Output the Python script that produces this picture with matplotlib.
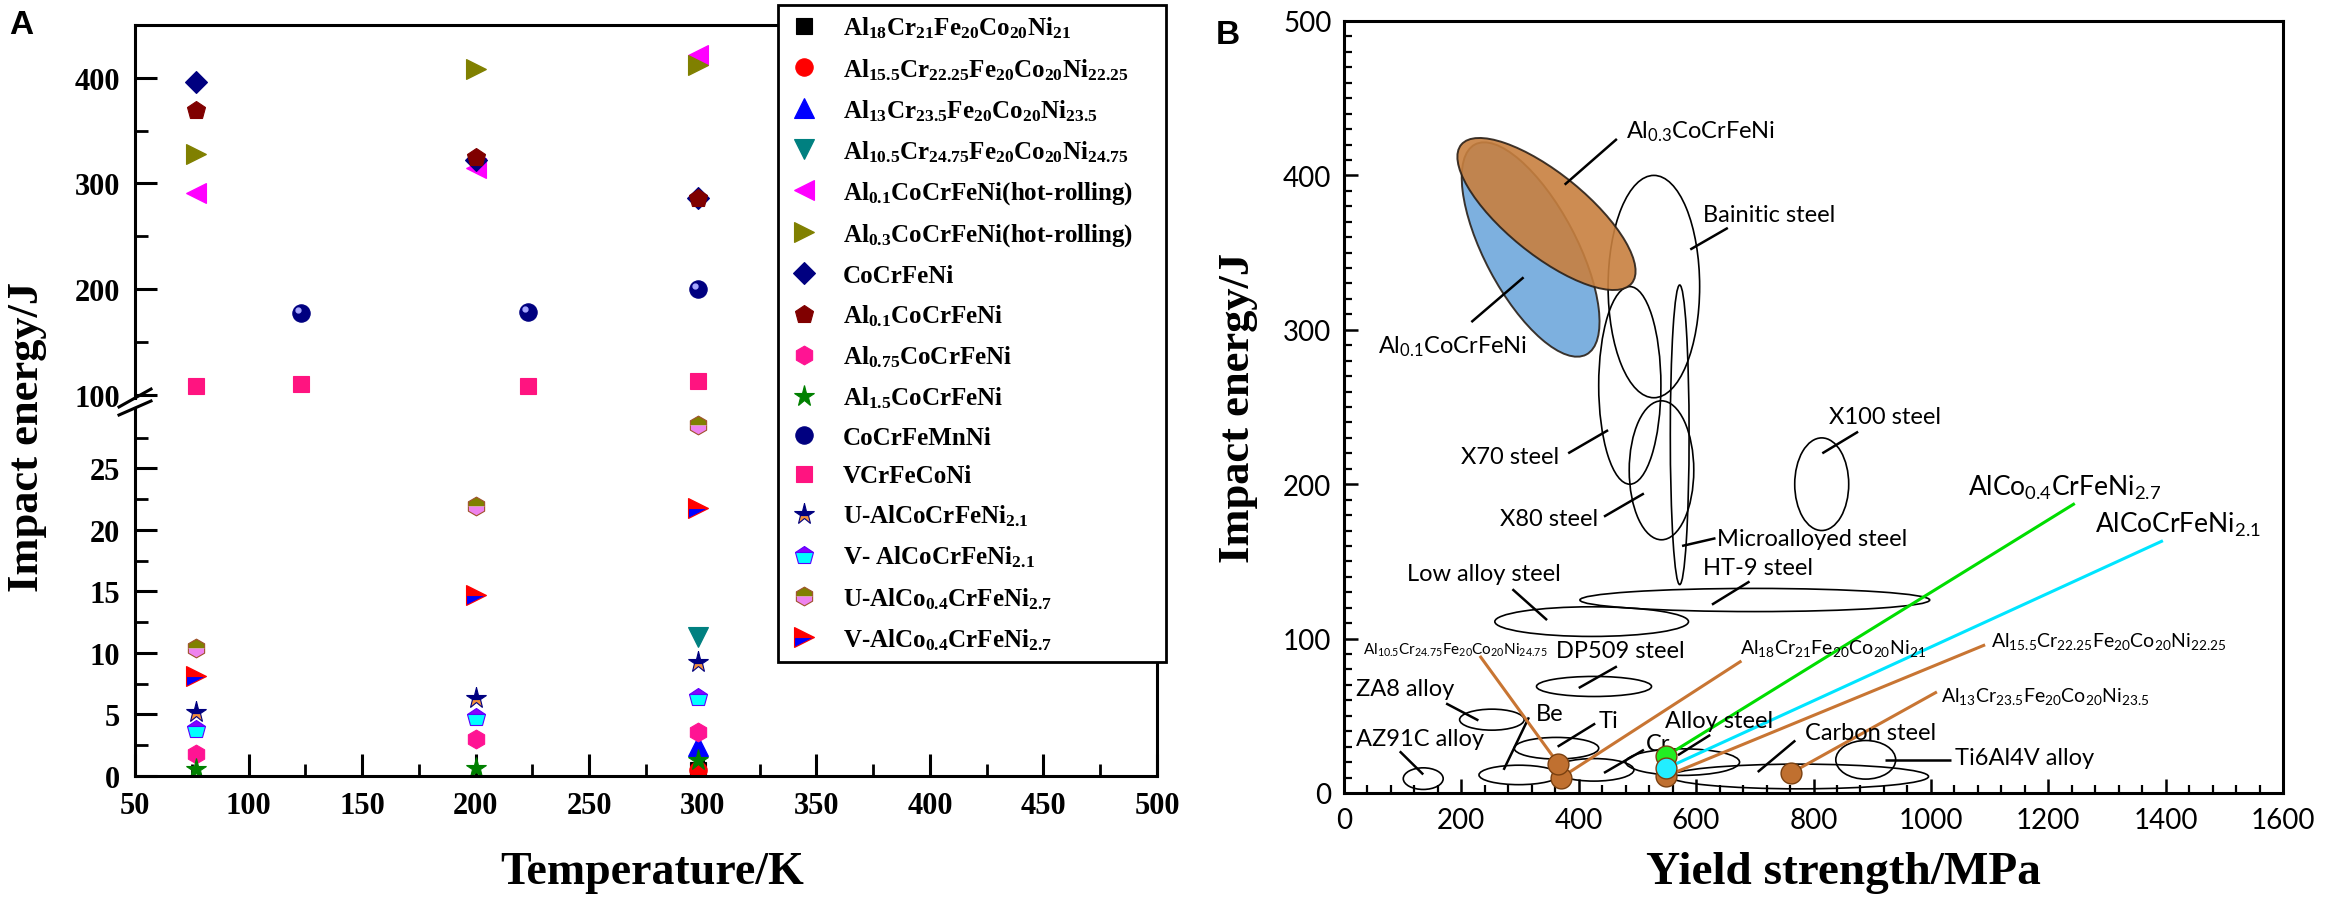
import numpy as np
import matplotlib
matplotlib.use('Agg')
import matplotlib.pyplot as plt
from matplotlib.patches import Ellipse
from matplotlib.transforms import Affine2D, offset_copy
from matplotlib.ticker import MultipleLocator

plt.rcParams['font.family'] = ['Liberation Serif', 'DejaVu Serif']
plt.rcParams['font.weight'] = 'bold'
plt.rcParams['mathtext.default'] = 'regular'

# ---------------- panel A data: impact energy vs temperature ----------------
series_names = [
    'Al$_{18}$Cr$_{21}$Fe$_{20}$Co$_{20}$Ni$_{21}$',
    'Al$_{15.5}$Cr$_{22.25}$Fe$_{20}$Co$_{20}$Ni$_{22.25}$',
    'Al$_{13}$Cr$_{23.5}$Fe$_{20}$Co$_{20}$Ni$_{23.5}$',
    'Al$_{10.5}$Cr$_{24.75}$Fe$_{20}$Co$_{20}$Ni$_{24.75}$',
    'Al$_{0.1}$CoCrFeNi(hot-rolling)',
    'Al$_{0.3}$CoCrFeNi(hot-rolling)',
    'CoCrFeNi',
    'Al$_{0.1}$CoCrFeNi',
    'Al$_{0.75}$CoCrFeNi',
    'Al$_{1.5}$CoCrFeNi',
    'CoCrFeMnNi',
    'VCrFeCoNi',
    'U-AlCoCrFeNi$_{2.1}$',
    'V- AlCoCrFeNi$_{2.1}$',
    'U-AlCo$_{0.4}$CrFeNi$_{2.7}$',
    'V-AlCo$_{0.4}$CrFeNi$_{2.7}$',
]
series_T = [
    [298], [298], [298], [298],
    [77, 200, 298], [77, 200, 298], [77, 200, 298], [77, 200, 298],
    [77, 200, 298], [77, 200, 298], [123, 223, 298], [77, 123, 223, 298],
    [77, 200, 298], [77, 200, 298], [77, 200, 298], [77, 200, 298],
]
series_E = [
    [0.5], [0.45], [2.4], [11.3],
    [291, 315, 422], [328, 408, 412], [396, 322, 286], [370, 325, 286],
    [1.8, 3.0, 3.6], [0.6, 0.65, 1.3], [177, 178, 200], [108, 110, 108, 113],
    [5.2, 6.3, 9.3], [3.8, 4.8, 6.4], [10.4, 21.9, 28.5], [8.1, 14.7, 21.8],
]

styles = [
    dict(marker='s', ms=11, color='black'),
    dict(marker='o', ms=12.5, color='red'),
    dict(marker='^', ms=14.5, color='blue'),
    dict(marker='v', ms=14.5, color='#008080'),
    dict(marker='<', ms=14.5, color='#ff00ff'),
    dict(marker='>', ms=14.5, color='#808000'),
    dict(marker='D', ms=11, color='#000080'),
    dict(marker='p', ms=13.5, color='#800000'),
    dict(marker='h', ms=13.5, color='#ff1493'),
    dict(marker='*', ms=15.5, color='#008000'),
    dict(marker='o', ms=12.5, color='#000080'),
    dict(marker='s', ms=11, color='#ff1480'),
    dict(marker='*', ms=15.5, mfc='#f4913c', mfcalt='#000080', fillstyle='bottom', mec='#000080'),
    dict(marker='p', ms=13.5, mfc='#8800ff', mfcalt='#00ffff', fillstyle='top', mec='#5a00ff'),
    dict(marker='h', ms=13.5, mfc='#808000', mfcalt='#ee82ee', fillstyle='top', mec='#a0522d'),
    dict(marker='>', ms=14.5, mfc='#ff0000', mfcalt='#0000ff', fillstyle='top', mec='#ff0000'),
]

# ---------------- panel B data: impact energy vs yield strength ----------------
ell_names = ['Bainitic steel', 'X70 steel', 'X80 steel', 'Microalloyed steel', 'X100 steel',
             'HT-9 steel', 'Low alloy steel', 'DP509 steel', 'ZA8 alloy', 'Ti', 'AZ91C alloy',
             'Be', 'Cr', 'Alloy steel', 'Carbon steel', 'Ti6Al4V alloy']
ell_cx = [528, 487, 541, 572, 814, 700, 422, 426, 252, 362, 135, 298, 426, 577, 776, 889]
ell_cy = [328, 264, 209, 232, 200, 125, 111, 69, 47.5, 29, 9.3, 11.7, 15, 20, 10.7, 21.5]
ell_rx = [78, 53, 55, 16, 46, 298, 165, 98, 55, 72, 34, 68, 68, 97, 220, 51]
ell_ry = [72, 64, 45, 97, 30, 7.5, 9.6, 6.5, 6.8, 7, 7, 6.3, 7.3, 8.6, 8, 12.5]

# tilted HEA ellipses: centre, major and minor semi-axis vectors (MPa, J)
hea_cx = [318, 345]
hea_cy = [352, 375]
hea_u = [(95, -68), (145, -45)]
hea_v = [(69, 14), (45, 20)]
hea_colors = ['#6fa8dc', '#c8803f']

label_text = ['Al$_{0.3}$CoCrFeNi', 'Al$_{0.1}$CoCrFeNi', 'Bainitic steel', 'X70 steel',
              'X80 steel', 'Microalloyed steel', 'HT-9 steel', 'X100 steel', 'Low alloy steel',
              'DP509 steel', 'ZA8 alloy', 'AZ91C alloy', 'Be', 'Ti', 'Cr', 'Alloy steel',
              'Carbon steel', 'Ti6Al4V alloy']
label_x = [480, 58, 612, 199, 266, 636, 612, 827, 107, 361, 20, 20, 327, 434, 515, 547, 785, 1041]
label_y = [429, 290, 375, 218, 178, 165, 146, 244, 142, 92, 68, 35, 51.6, 47, 32, 47, 39.5, 23]

ptr_x0 = [465, 217, 654, 382, 443, 633, 691, 876, 287, 465, 174, 95, 315, 428, 511, 624, 769, 1035]
ptr_y0 = [423.6, 305, 366, 220, 179, 165, 137, 234, 132, 82, 58, 27, 49, 45, 28, 37.6, 34, 21.5]
ptr_x1 = [376, 306, 590, 450, 511, 576, 627, 815, 346, 400, 229, 135, 272, 364, 443, 569, 705, 922]
ptr_y1 = [394, 334, 352, 235, 194, 160, 122, 220, 112, 68, 47, 12, 15, 30, 13, 24.5, 13.6, 21.5]

alloy_text = ['Al$_{10.5}$Cr$_{24.75}$Fe$_{20}$Co$_{20}$Ni$_{24.75}$',
              'Al$_{18}$Cr$_{21}$Fe$_{20}$Co$_{20}$Ni$_{21}$',
              'AlCo$_{0.4}$CrFeNi$_{2.7}$',
              'AlCoCrFeNi$_{2.1}$',
              'Al$_{15.5}$Cr$_{22.25}$Fe$_{20}$Co$_{20}$Ni$_{22.25}$',
              'Al$_{13}$Cr$_{23.5}$Fe$_{20}$Co$_{20}$Ni$_{23.5}$']
alloy_label_x = [32, 675, 1063, 1280, 1103, 1017]
alloy_label_y = [93, 94, 198, 174, 99, 63]
alloy_line_x0 = [233, 675, 1243, 1393, 1090, 1008]
alloy_line_y0 = [88, 85, 187, 163, 95.6, 65]
alloy_ys = [365, 370, 549, 549, 549, 762]
alloy_ie = [19, 10, 24, 16, 11, 13]
line_colors = ['#c87533', '#c87533', '#00dd00', '#00e5ff', '#c87533', '#c87533']
dot_colors = ['#c07030', '#c07030', '#22ee22', '#22eeff', '#c07030', '#c07030']
dot_z = [7, 6, 8, 8, 6, 6]
alloy_fs = [11, 14, 19, 19, 14, 14]

# ---------------- figure ----------------
W, H = 2326, 912
fig = plt.figure(figsize=(W / 100, H / 100), dpi=100)


def rect(x0, y0, x1, y1):
    return [x0 / W, 1 - y1 / H, (x1 - x0) / W, (y1 - y0) / H]


ax_hi = fig.add_axes(rect(135, 26, 1157, 399))
ax_lo = fig.add_axes(rect(135, 409, 1157, 777))
for ax in (ax_hi, ax_lo):
    ax.patch.set_visible(False)
    ax.set_xlim(50, 500)
    for s in ax.spines.values():
        s.set_linewidth(2.2)
    ax.xaxis.set_major_locator(MultipleLocator(50))
    ax.xaxis.set_minor_locator(MultipleLocator(25))
    ax.tick_params(which='major', direction='in', length=16, width=2.2, labelsize=22, pad=11)
    ax.tick_params(which='minor', direction='in', length=9, width=2.0)

ax_hi.set_ylim(97, 450)
ax_hi.yaxis.set_major_locator(MultipleLocator(100))
ax_hi.yaxis.set_minor_locator(MultipleLocator(50))
ax_hi.spines['bottom'].set_visible(False)
ax_hi.tick_params(axis='x', which='both', bottom=False, labelbottom=False)

ax_lo.set_ylim(0, 29.9)
ax_lo.yaxis.set_major_locator(MultipleLocator(5))
ax_lo.yaxis.set_minor_locator(MultipleLocator(2.5))
ax_lo.spines['top'].set_visible(False)

handles = []
for ax in (ax_hi, ax_lo):
    handles = []
    for T, E, st in zip(series_T, series_E, styles):
        h, = ax.plot(T, E, linestyle='none', mew=0.8, **st)
        handles.append(h)
    # small highlight on the CoCrFeMnNi spheres
    ax.plot(series_T[10], series_E[10], linestyle='none', marker='o', ms=3.5, color='#a8a8ff',
            transform=offset_copy(ax.transData, fig=fig, x=-3, y=3, units='dots'))

# axis break marks
dx = 16 / 1022
ax_hi.plot([-dx, dx], [-0.024, 0.024], transform=ax_hi.transAxes, color='black', lw=2.2, clip_on=False)
ax_lo.plot([-dx, dx], [1 - 0.019, 1 + 0.019], transform=ax_lo.transAxes, color='black', lw=2.2, clip_on=False)

leg = fig.legend(handles, series_names, loc='upper left',
                 bbox_to_anchor=(778 / W, 1 - 15 / H, 388 / W, 0.01), mode='expand',
                 prop={'family': 'Liberation Serif', 'weight': 'bold', 'size': 18},
                 frameon=True, fancybox=False, framealpha=1, edgecolor='black',
                 borderpad=0.4, labelspacing=0.62, handlelength=1.3, handletextpad=0.9,
                 borderaxespad=0, markerscale=1.0)
leg.get_frame().set_linewidth(2)

fig.text(21 / W, 1 - 25 / H, 'A', family='Liberation Sans', weight='bold', size=24, ha='center', va='center')
fig.text(27 / W, 1 - 437 / H, 'Impact energy/J', size=32, rotation=90, ha='center', va='center')
fig.text(652 / W, 1 - 873 / H, 'Temperature/K', size=33, ha='center', va='center')

# ---------------- panel B ----------------
axb = fig.add_axes(rect(1344, 22, 2283, 794))
axb.set_xlim(0, 1600)
axb.set_ylim(0, 500)
for s in axb.spines.values():
    s.set_linewidth(2.2)
axb.xaxis.set_major_locator(MultipleLocator(200))
axb.xaxis.set_minor_locator(MultipleLocator(40))
axb.yaxis.set_major_locator(MultipleLocator(100))
axb.yaxis.set_minor_locator(MultipleLocator(10))
axb.tick_params(which='major', direction='in', length=10, width=1.8, labelsize=20)
axb.tick_params(axis='x', which='major', pad=10)
axb.tick_params(axis='y', which='major', pad=9)
axb.tick_params(which='minor', direction='in', length=5.5, width=1.6)
for lab in axb.get_xticklabels() + axb.get_yticklabels():
    lab.set_fontfamily('Lato')
    lab.set_fontweight('normal')

for cx, cy, rx, ry in zip(ell_cx, ell_cy, ell_rx, ell_ry):
    axb.add_patch(Ellipse((cx, cy), 2 * rx, 2 * ry, facecolor='none', edgecolor='black', lw=1.2, zorder=2))

for cx, cy, u, v, c in zip(hea_cx, hea_cy, hea_u, hea_v, hea_colors):
    e = Ellipse((0, 0), 2, 2, facecolor=c, edgecolor='#2a2018', lw=1.4, alpha=0.9, zorder=3)
    m = np.array([[u[0], v[0], cx], [u[1], v[1], cy], [0, 0, 1]])
    e.set_transform(Affine2D(m) + axb.transData)
    axb.add_patch(e)

for x0, y0, x1, y1 in zip(ptr_x0, ptr_y0, ptr_x1, ptr_y1):
    axb.plot([x0, x1], [y0, y1], color='black', lw=1.8, zorder=4, solid_capstyle='butt')

for t, x, y in zip(label_text, label_x, label_y):
    axb.text(x, y, t, family='Lato', weight='normal', size=17, ha='left', va='center', zorder=5)

for t, lx, ly, x0, y0, xs, ie, c, fs in zip(alloy_text, alloy_label_x, alloy_label_y, alloy_line_x0,
                                             alloy_line_y0, alloy_ys, alloy_ie, line_colors, alloy_fs):
    axb.plot([x0, xs], [y0, ie], color=c, lw=2.2, zorder=4)
    axb.text(lx, ly, t, family='Lato', weight='normal', size=fs, ha='left', va='center', zorder=5)

for xs, ie, c, z in zip(alloy_ys, alloy_ie, dot_colors, dot_z):
    axb.plot(xs, ie, marker='o', ms=15, mfc=c, mec='#7a4010', mew=1, zorder=z)

fig.text(1228 / W, 1 - 35 / H, 'B', family='Liberation Sans', weight='bold', size=24, ha='center', va='center')
fig.text(1238 / W, 1 - 408 / H, 'Impact energy/J', size=32, rotation=90, ha='center', va='center')
fig.text(1843 / W, 1 - 873 / H, 'Yield strength/MPa', size=34, ha='center', va='center')

fig.savefig('out.png', dpi=100)
